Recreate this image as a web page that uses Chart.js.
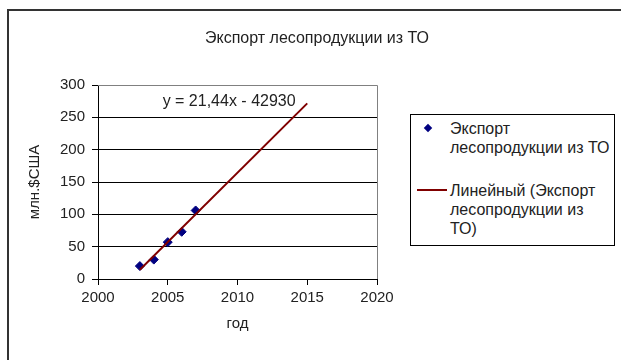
<!DOCTYPE html>
<html lang="ru">
<head>
<meta charset="utf-8">
<title>Экспорт лесопродукции из ТО</title>
<script src="https://cdn.jsdelivr.net/npm/chart.js@4/dist/chart.umd.min.js"></script>
<style>
    html, body { margin: 0; padding: 0; background: #fff; }
    #wrap {
        position: relative; width: 621px; height: 360px; overflow: hidden;
        font-family: "Liberation Sans", Arial, sans-serif; color: #222;
    }
    #marco {
        position: absolute; left: 7px; top: 9px; width: 700px; height: 400px;
        border-left: 2px solid #333; border-top: 2px solid #333;
    }
    #grafico { position: absolute; left: 0; top: 0; }
    #titulo {
        position: absolute; left: 0; top: 28px; width: 634px;
        text-align: center; font-size: 16px; line-height: 20px;
    }
    #leyenda {
        position: absolute; left: 410px; top: 114px; width: 205px; height: 132px;
        box-sizing: border-box; border: 1px solid #000; background: #fff;
        font-size: 16px; line-height: 19px;
    }
    .item-texto { position: absolute; left: 39px; width: 162px; }
</style>
</head>
<body>
<div id="wrap">
    <div id="marco"></div>
    <canvas id="grafico" width="621" height="360"></canvas>
    <div id="titulo">Экспорт лесопродукции из ТО</div>
    <div id="leyenda"></div>
</div>

<script>
/* ── Datos ─────────────────────────────────── */
const nombreSerie  = 'Экспорт лесопродукции из ТО';
const anios        = [2003, 2004, 2005, 2006, 2007];
const exportacion  = [20, 30, 57, 73, 106];      // млн.$США

// Línea de tendencia tal como la indica la ecuación
const pendiente    = 21.44;
const intercepto   = -42930;
const tramoTendencia = [2003, 2015];
const textoEcuacion  = 'y = 21,44x - 42930';

const ticksX = { min: 2000, max: 2020, paso: 5 };
const ticksY = { min: 0, max: 300, paso: 50 };

const FUENTE = '"Liberation Sans", Arial, sans-serif';

Chart.defaults.font.family = FUENTE;
Chart.defaults.font.size   = 15;
Chart.defaults.color       = '#222';

// ── Plugins ──────────────────────────────────
const bordeArea = {
    id: 'bordeArea',
    beforeDatasetsDraw(chart) {
        const { ctx, chartArea: a } = chart;
        ctx.save();
        ctx.strokeStyle = '#808080';
        ctx.lineWidth = 1;
        ctx.beginPath();
        ctx.moveTo(a.left, Math.round(a.top) + 0.5);
        ctx.lineTo(Math.round(a.right) + 0.5, Math.round(a.top) + 0.5);
        ctx.lineTo(Math.round(a.right) + 0.5, a.bottom);
        ctx.stroke();
        ctx.restore();
    }
};

const etiquetaEcuacion = {
    id: 'etiquetaEcuacion',
    afterDatasetsDraw(chart) {
        const { ctx, scales: { x, y } } = chart;
        ctx.save();
        ctx.font = '16px ' + FUENTE;
        ctx.fillStyle = '#222';
        ctx.textAlign = 'center';
        ctx.textBaseline = 'middle';
        ctx.fillText(textoEcuacion, x.getPixelForValue(2009.4), y.getPixelForValue(275));
        ctx.restore();
    }
};

// ── Gráfico ──────────────────────────────────
const grafico = new Chart(document.getElementById('grafico'), {
    type: 'scatter',
    data: {
        datasets: [{
            label: nombreSerie,
            data: anios.map((a, i) => ({ x: a, y: exportacion[i] })),
            pointStyle: 'rectRot',
            pointRadius: 4.5,
            backgroundColor: '#000080',
            borderColor: '#000080',
            borderWidth: 1,
            order: 2
        }, {
            label: 'Линейный (' + nombreSerie + ')',
            data: tramoTendencia.map(a => ({ x: a, y: pendiente * a + intercepto })),
            showLine: true,
            borderColor: '#800000',
            backgroundColor: '#800000',
            borderWidth: 2,
            pointRadius: 0,
            order: 1
        }]
    },
    options: {
        responsive: false,
        animation: false,
        layout: { padding: { left: 20, right: 244, top: 85, bottom: 16 } },
        plugins: {
            legend:  { display: false },
            tooltip: { enabled: false },
            title:   { display: false }
        },
        scales: {
            x: {
                type: 'linear',
                min: ticksX.min, max: ticksX.max,
                afterFit: s => { s.height = 65; },
                ticks: { stepSize: ticksX.paso, padding: 4, callback: v => String(v) },
                grid: { drawOnChartArea: false, drawTicks: true, tickLength: 6, tickColor: '#000' },
                border: { color: '#000' },
                title: { display: true, text: 'год', padding: { top: 0, bottom: 11 } }
            },
            y: {
                min: ticksY.min, max: ticksY.max,
                afterFit: s => { s.width = 78; },
                ticks: { stepSize: ticksY.paso, padding: 7, callback: v => String(v) },
                grid: {
                    color: c => (c.tick && c.tick.value === ticksY.max) ? '#808080' : '#000',
                    tickColor: '#000',
                    tickLength: 6
                },
                border: { color: '#000' },
                title: { display: true, text: 'млн.$США', padding: { top: 6, bottom: 0 } }
            }
        }
    },
    plugins: [bordeArea, etiquetaEcuacion]
});

// ── Leyenda ──────────────────────────────────
const [serie, tendencia] = grafico.data.datasets;
document.getElementById('leyenda').innerHTML = `
    <div style="position:absolute;left:14px;top:10px;width:6px;height:6px;background:${serie.backgroundColor};transform:rotate(45deg)"></div>
    <div class="item-texto" style="top:4px">${serie.label}</div>
    <div style="position:absolute;left:6px;top:74px;width:30px;height:2px;background:${tendencia.borderColor}"></div>
    <div class="item-texto" style="top:66px">${tendencia.label}</div>`;
</script>
</body>
</html>
